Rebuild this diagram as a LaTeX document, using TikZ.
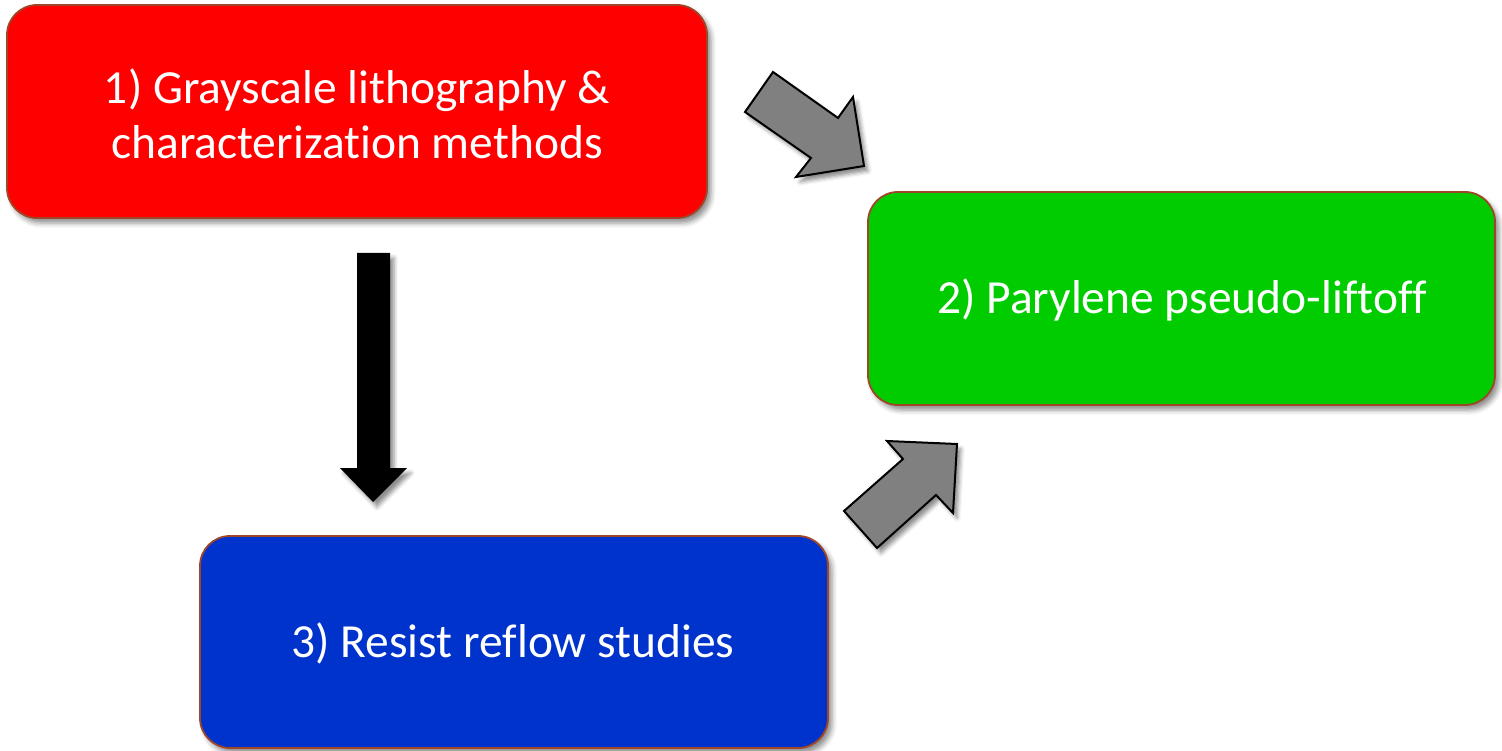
\documentclass[tikz,border=0pt]{standalone}
\usepackage{fontspec}
\setmainfont[Ligatures={NoCommon,NoContextual}]{Carlito}
\usetikzlibrary{shadows.blur}
\definecolor{boxred}{RGB}{255,0,0}
\definecolor{boxgreen}{RGB}{0,204,0}
\definecolor{boxblue}{RGB}{0,51,204}
\definecolor{boxborder}{RGB}{160,70,40}
\definecolor{arrgray}{RGB}{128,128,128}
\tikzset{
  stepbox/.style={draw=boxborder, line width=1.8pt, rounded corners=30pt,
    blur shadow={shadow xshift=4pt, shadow yshift=-5pt, shadow blur radius=5pt, shadow opacity=45}},
  steptext/.style={text=white, align=center, font=\fontsize{47.5}{55}\selectfont},
  blockarrow/.style={draw=black, line width=2pt, line join=miter,
    blur shadow={shadow xshift=4pt, shadow yshift=-5pt, shadow blur radius=4pt, shadow opacity=45}}
}
\begin{document}
\begin{tikzpicture}[x=1pt,y=-1pt]
\useasboundingbox (0,0) rectangle (1502,751);
% boxes
\draw[stepbox, fill=boxred] (7,5) rectangle (707,218);
\node[steptext] (b1) at (357,114) {1) Grayscale lithography \&\\characterization methods};
\draw[stepbox, fill=boxgreen] (868,192) rectangle (1495,405);
\node[steptext] (b2) at (1182,300) {2) Parylene pseudo-liftoff};
\draw[stepbox, fill=boxblue] (200,536) rectangle (828,748);
\node[steptext] (b3) at (513,643) {3) Resist reflow studies};
% arrows
\draw[blockarrow, fill=arrgray] (745,112) -- (773,72) -- (838,118) -- (853,97) -- (864,166) -- (796,177) -- (811,158) -- cycle;
\draw[blockarrow, fill=arrgray] (844,511) -- (877,548) -- (936,495) -- (953,513) -- (957,444) -- (887,441) -- (903,459) -- cycle;
\fill[black, blur shadow={shadow xshift=4pt, shadow yshift=-5pt, shadow blur radius=4pt, shadow opacity=45}]
  (357,253) -- (390,253) -- (390,468) -- (407,468) -- (373,502) -- (340,468) -- (357,468) -- cycle;
\end{tikzpicture}
\end{document}
